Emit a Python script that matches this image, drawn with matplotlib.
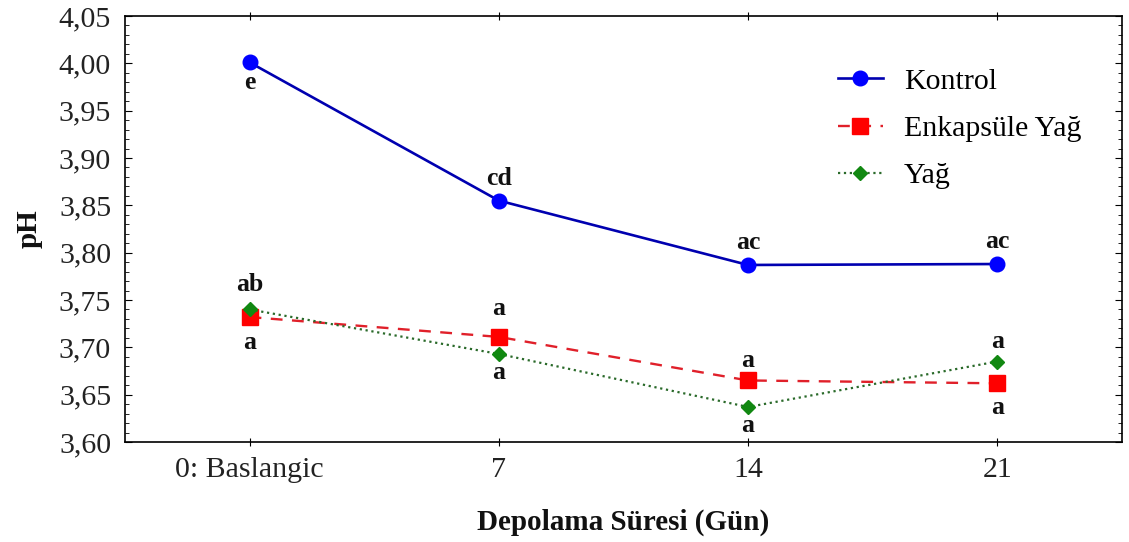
import matplotlib
matplotlib.use('Agg')
from matplotlib import pyplot as plt
from matplotlib.ticker import MultipleLocator, FuncFormatter

plt.rcParams['font.family'] = ['Liberation Serif', 'DejaVu Serif']

# storage time groups
days = ['0: Baslangic', '7', '14', '21']

# pH means per treatment
kontrol = [4.001, 3.855, 3.787, 3.788]
enkapsule = [3.732, 3.711, 3.665, 3.662]
yag = [3.740, 3.693, 3.637, 3.685]

# significance letters per point
kontrol_letters = ['e', 'cd', 'ac', 'ac']
enk_letters = ['a', 'a', 'a', 'a']
yag_letters = ['ab', 'a', 'a', 'a']

# baseline offset of each letter from its point (points, + above / - below)
kontrol_off = [-19, 11, 11.5, 11.5]
enk_off = [-23, 16, 10, -22]
yag_off = [13, -18, -18, 10]

x = list(range(len(days)))

fig = plt.figure(figsize=(11.29, 5.42), dpi=100)
ax = fig.add_axes([0.1107, 0.1845, 0.883, 0.786])

ax.plot(x, kontrol, '-', color='#0000b0', linewidth=1.9,
        marker='o', markersize=10.5, markerfacecolor='#0000ff',
        markeredgecolor='#0000ff', label='Kontrol')
ax.plot(x, enkapsule, '--', color='#e0202a', linewidth=1.7, dashes=(5, 4),
        marker='s', markersize=11, markerfacecolor='#ff0000',
        markeredgecolor='#ff0000', label='Enkapsüle Yağ')
ax.plot(x, yag, ':', color='#2a6a2a', linewidth=1.6,
        marker='D', markersize=7.5, markerfacecolor='#118811',
        markeredgecolor='#118811', label='Yağ')

def put_letters(values, letters, offsets):
    for xi, v, txt, off in zip(x, values, letters, offsets):
        ax.annotate(txt, (xi, v), xytext=(0, off), textcoords='offset points',
                    ha='center', va='baseline',
                    fontsize=18.5, fontweight='bold', color='#111111')

put_letters(kontrol, kontrol_letters, kontrol_off)
put_letters(enkapsule, enk_letters, enk_off)
put_letters(yag, yag_letters, yag_off)

ax.set_xlim(-0.5, 3.5)
ax.set_ylim(3.60, 4.05)
ax.set_xticks(x)
ax.set_xticklabels(days, fontsize=21.5, color='#222222')
ax.yaxis.set_major_locator(MultipleLocator(0.05))
ax.yaxis.set_minor_locator(MultipleLocator(0.01))
ax.yaxis.set_major_formatter(FuncFormatter(lambda v, p: f'{v:.2f}'.replace('.', ',')))
ax.tick_params(axis='y', which='both', direction='in', left=True, right=True,
               labelsize=21.5, labelcolor='#222222', pad=10)
ax.tick_params(axis='y', which='major', length=5)
ax.tick_params(axis='y', which='minor', length=3)
ax.tick_params(axis='x', direction='inout', top=True, length=6, pad=8)

for s in ax.spines.values():
    s.set_linewidth(1.2)

ax.set_xlabel('Depolama Süresi (Gün)', fontsize=21, fontweight='bold',
              labelpad=18, color='#111111')
ax.set_ylabel('pH', fontsize=21, fontweight='bold', labelpad=12, color='#111111')

ax.legend(loc='upper left', bbox_to_anchor=(838 / 1129, 1 - 68 / 542),
          bbox_transform=fig.transFigure, frameon=False, borderpad=0,
          borderaxespad=0, fontsize=21.5, handlelength=1.5,
          labelspacing=0.68, handletextpad=0.7)

fig.savefig('out.png', dpi=100)
